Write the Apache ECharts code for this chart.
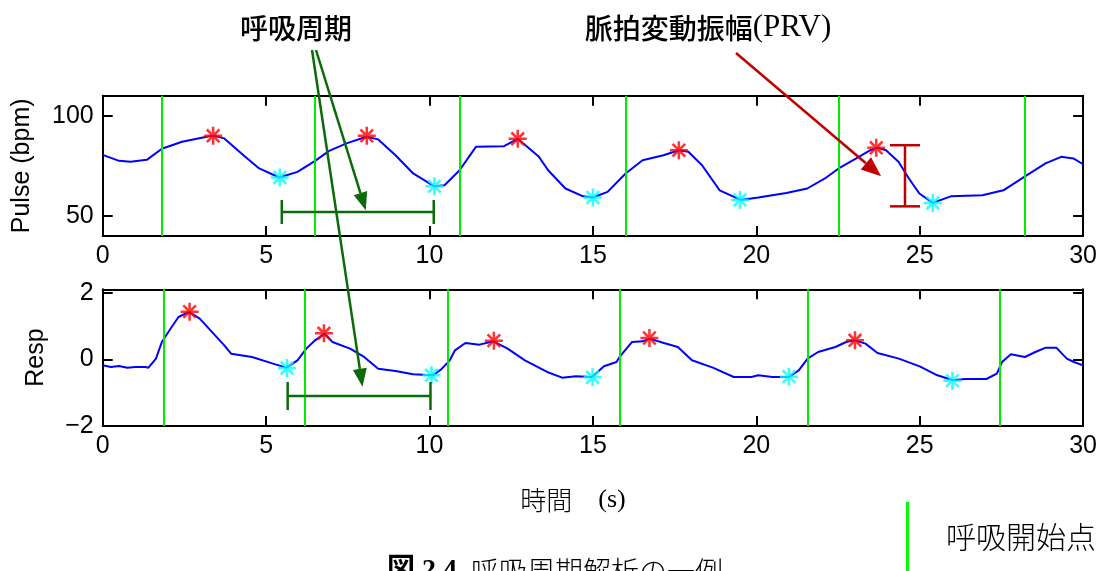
<!DOCTYPE html>
<html><head><meta charset="utf-8">
<script src="https://cdn.jsdelivr.net/npm/echarts@6/dist/echarts.min.js"></script>
<style>html,body{margin:0;padding:0;background:#fff}#c{width:1100px;height:571px}</style>
</head><body><div id="c"></div>
<script>
// ---- data ----
const pulseT = [0,0.5,0.85,1.35,1.81,2.43,3.18,3.4,3.72,4.36,4.79,5.4,5.96,6.5,6.93,7.46,8.07,8.43,8.96,9.5,10.15,10.46,10.92,11.42,12.28,12.7,13.35,13.63,14.16,14.7,15.0,15.45,16.0,16.52,17.16,17.63,17.92,18.34,18.88,19.52,20.06,20.92,21.56,22.1,22.52,23.06,23.49,23.7,23.97,24.35,24.67,24.99,25.4,25.95,26.92,27.56,28.2,28.85,29.33,29.7,30];
const pulseV = [80.5,77.5,77,78,83.5,87,89.5,90,88.7,79.5,73.7,69.2,72,77.5,82.5,86.2,89.5,88.2,80.3,71.2,64.8,65.3,72.8,84.5,84.8,88.5,79.5,72.8,63.7,59.8,59.2,62,71.2,77.8,80.3,82.8,82,75.3,62.8,58,59.2,61.5,63.7,68.7,73.7,78.7,82.8,84,82.8,77,68.7,61.2,56.5,59.8,60.3,62.8,69.5,76.2,79.5,78.7,75.8];
const pulsePeakT = [3.38,8.08,12.7,17.63,23.67];
const pulsePeakV = [90,90,88.5,82.8,84];
const pulseTroughT = [5.42,10.15,15.0,19.5,25.4];
const pulseTroughV = [69.2,64.8,59.2,58,56.5];
const pulseOnsets = [1.81,6.5,10.92,16.0,22.52,28.2];

const respT = [0,0.25,0.5,0.75,1.0,1.3,1.4,1.63,1.81,2.11,2.32,2.64,2.97,3.39,3.72,3.93,4.57,5.21,5.62,5.96,6.23,6.5,6.79,7.03,7.57,8.0,8.43,8.96,9.5,10.09,10.35,10.62,10.78,11.1,11.53,11.96,12.39,12.92,13.6,14.06,14.48,14.97,15.34,15.72,15.83,16.2,16.52,16.74,17.17,17.6,18.03,18.67,19.31,19.85,20.06,20.49,21.0,21.3,21.57,21.89,22.42,22.75,23.01,23.34,23.71,24.36,25.0,25.54,26.02,26.39,27.04,27.36,27.52,27.79,28.22,28.54,28.86,29.18,29.5,29.72,30];
const respV = [-0.18,-0.23,-0.2,-0.25,-0.23,-0.23,-0.25,0.02,0.52,0.97,1.27,1.42,1.22,0.77,0.42,0.17,0.07,-0.13,-0.25,-0.03,0.32,0.57,0.77,0.52,0.32,0.07,-0.28,-0.35,-0.45,-0.48,-0.31,-0.03,0.27,0.49,0.44,0.54,0.32,-0.03,-0.38,-0.55,-0.51,-0.53,-0.21,-0.08,0.09,0.52,0.54,0.62,0.49,0.37,-0.03,-0.25,-0.53,-0.53,-0.48,-0.53,-0.53,-0.33,0.02,0.22,0.37,0.52,0.57,0.47,0.19,0.02,-0.21,-0.48,-0.63,-0.59,-0.59,-0.43,-0.08,0.15,0.07,0.22,0.35,0.35,0.02,-0.08,-0.18];
const respPeakT = [2.66,6.77,11.97,16.73,23.02];
const respPeakV = [1.43,0.78,0.56,0.64,0.57];
const respTroughT = [5.64,10.06,14.99,21.0,26.0];
const respTroughV = [-0.26,-0.48,-0.54,-0.52,-0.64];
const respOnsets = [1.87,6.17,10.57,15.83,21.56,27.45];

const xTicks = [0,5,10,15,20,25,30];
const pulseTicks = [50,100];
const respTicks = [-2,0,2];

// annotation anchors (data units)
const cycleTopSpan = [5.48, 10.13], cycleTopLevel = 52;
const cycleBotSpan = [5.66, 10.03], cycleBotLevel = -1.1;
const cycleTopTip = [8.05, 52.8], cycleBotTip = [7.95, -0.82];
const prvBarT = 24.55, prvBarRange = [85.3, 54.8];
const prvTip = [23.82, 69.8];

// ---- chart ----
const zip = (a, b) => a.map((v, i) => [v, b[i]]);
const STAR = 'path://M0,8.6L20,8.6L20,11.4L0,11.4ZM8.6,0L11.4,0L11.4,20L8.6,20ZM2,4L4,2L18,16L16,18ZM16,2L18,4L4,18L2,16Z';
const NUMFONT = '"Liberation Sans",Arial,sans-serif';
const chart = echarts.init(document.getElementById('c'), null, {renderer: 'canvas'});

const axLine = {show: true, onZero: false, lineStyle: {color: '#000', width: 2}};
function xAx(grid, pos, labels) {
  return {type: 'value', gridIndex: grid, position: pos, min: 0, max: 30, interval: 5,
    axisLine: axLine, splitLine: {show: false},
    axisTick: {show: true, inside: true, length: 10, lineStyle: {color: '#000', width: 2}},
    axisLabel: {show: labels, margin: 8, color: '#000', fontSize: 25, fontFamily: NUMFONT}};
}
function yAx(grid, pos, min, max, ticks, labels, name, gap) {
  return {type: 'value', gridIndex: grid, position: pos, min: min, max: max,
    axisLine: axLine, splitLine: {show: false},
    axisTick: {show: true, inside: true, length: 10, customValues: ticks, lineStyle: {color: '#000', width: 2}},
    axisLabel: {show: labels, margin: 9, color: '#000', fontSize: 25, fontFamily: NUMFONT, customValues: ticks,
      formatter: v => (v < 0 ? '\u2212' + Math.abs(v) : String(v))},
    name: name || '', nameLocation: 'middle', nameGap: gap || 0,
    nameTextStyle: {color: '#000', fontSize: 25, fontFamily: '"Liberation Sans",Arial,sans-serif'}};
}
const onsetStyle = {symbol: ['none', 'none'], silent: true, label: {show: false},
  lineStyle: {color: '#00ee00', width: 2, type: 'solid'}, emphasis: {disabled: true}};

const option = {
  animation: false,
  backgroundColor: '#fff',
  grid: [
    {left: 102.7, right: 13.3, top: 95.7, height: 140.3},
    {left: 102.7, right: 13.3, top: 289.3, height: 136.7}
  ],
  xAxis: [xAx(0, 'bottom', true), xAx(0, 'top', false), xAx(1, 'bottom', true), xAx(1, 'top', false)],
  yAxis: [
    yAx(0, 'left', 40, 110, pulseTicks, true, 'Pulse (bpm)', 68),
    yAx(0, 'right', 40, 110, pulseTicks, false),
    yAx(1, 'left', -2, 2.1, respTicks, true, 'Resp', 54),
    yAx(1, 'right', -2, 2.1, respTicks, false)
  ],
  series: [
    {type: 'line', xAxisIndex: 0, yAxisIndex: 0, data: zip(pulseT, pulseV), showSymbol: false,
      lineStyle: {color: '#0000ff', width: 2}, z: 3,
      markLine: Object.assign({data: pulseOnsets.map(t => ({xAxis: t}))}, onsetStyle)},
    {type: 'scatter', xAxisIndex: 0, yAxisIndex: 0, data: zip(pulsePeakT, pulsePeakV), symbol: STAR, symbolSize: 18,
      itemStyle: {color: '#ff0000'}, z: 4},
    {type: 'scatter', xAxisIndex: 0, yAxisIndex: 0, data: zip(pulseTroughT, pulseTroughV), symbol: STAR, symbolSize: 18,
      itemStyle: {color: '#00ffff'}, z: 4},
    {type: 'line', xAxisIndex: 2, yAxisIndex: 2, data: zip(respT, respV), showSymbol: false,
      lineStyle: {color: '#0000ff', width: 2}, z: 3,
      markLine: Object.assign({data: respOnsets.map(t => ({xAxis: t}))}, onsetStyle)},
    {type: 'scatter', xAxisIndex: 2, yAxisIndex: 2, data: zip(respPeakT, respPeakV), symbol: STAR, symbolSize: 18,
      itemStyle: {color: '#ff0000'}, z: 4},
    {type: 'scatter', xAxisIndex: 2, yAxisIndex: 2, data: zip(respTroughT, respTroughV), symbol: STAR, symbolSize: 18,
      itemStyle: {color: '#00ffff'}, z: 4}
  ]
};
chart.setOption(option);

// ---- annotations ----
const G = '#0b6b0b', R = '#c00000';
const p0 = d => chart.convertToPixel({gridIndex: 0}, d);
const p1 = d => chart.convertToPixel({gridIndex: 1}, d);
function arrow(a, b, color, len, hw, w) {
  const dx = b[0] - a[0], dy = b[1] - a[1], L = Math.hypot(dx, dy), ux = dx / L, uy = dy / L;
  const bx = b[0] - ux * len, by = b[1] - uy * len, px = -uy, py = ux;
  return [
    {type: 'line', shape: {x1: a[0], y1: a[1], x2: bx, y2: by}, style: {stroke: color, lineWidth: w}, z: 50},
    {type: 'polygon', shape: {points: [[b[0], b[1]], [bx + px * hw, by + py * hw], [bx - px * hw, by - py * hw]]}, style: {fill: color}, z: 50}
  ];
}
function hBracket(l, r, color, cap, w) {
  return [
    {type: 'line', shape: {x1: l[0], y1: l[1], x2: r[0], y2: r[1]}, style: {stroke: color, lineWidth: w}, z: 50},
    {type: 'line', shape: {x1: l[0], y1: l[1] - cap, x2: l[0], y2: l[1] + cap}, style: {stroke: color, lineWidth: w}, z: 50},
    {type: 'line', shape: {x1: r[0], y1: r[1] - cap, x2: r[0], y2: r[1] + cap}, style: {stroke: color, lineWidth: w}, z: 50}
  ];
}
function vBar(top, bot, color, cap, w) {
  return [
    {type: 'line', shape: {x1: top[0], y1: top[1], x2: bot[0], y2: bot[1]}, style: {stroke: color, lineWidth: w}, z: 50},
    {type: 'line', shape: {x1: top[0] - cap, y1: top[1], x2: top[0] + cap, y2: top[1]}, style: {stroke: color, lineWidth: w}, z: 50},
    {type: 'line', shape: {x1: bot[0] - cap, y1: bot[1], x2: bot[0] + cap, y2: bot[1]}, style: {stroke: color, lineWidth: w}, z: 50}
  ];
}
const JP = '"Noto Sans CJK JP",sans-serif';
const SERIF = '"Liberation Serif","DejaVu Serif",serif';
const els = [].concat(
  hBracket(p0([cycleTopSpan[0], cycleTopLevel]), p0([cycleTopSpan[1], cycleTopLevel]), G, 12, 2.5),
  hBracket(p1([cycleBotSpan[0], cycleBotLevel]), p1([cycleBotSpan[1], cycleBotLevel]), G, 14, 2.5),
  arrow([316, 50], p0(cycleTopTip), G, 18, 7, 2.5),
  arrow([312, 50], p1(cycleBotTip), G, 18, 7, 2.5),
  vBar(p0([prvBarT, prvBarRange[0]]), p0([prvBarT, prvBarRange[1]]), R, 15, 2.5),
  arrow([736, 53], p0(prvTip), R, 20, 8, 2.5),
  [
    {type: 'text', x: 296, y: 28, z: 60, style: {text: '呼吸周期', fill: '#000', align: 'center', verticalAlign: 'middle',
      fontSize: 28, fontWeight: 500, fontFamily: JP}},
    {type: 'text', x: 708, y: 28, z: 60, style: {text: '{a|脈拍変動振幅}{b|(PRV)}', align: 'center', verticalAlign: 'middle',
      rich: {a: {fontSize: 28, fontWeight: 500, fontFamily: JP, fill: '#000'},
             b: {fontSize: 31, fontFamily: SERIF, fill: '#000'}}}},
    {type: 'text', x: 573, y: 500, z: 60, style: {text: '{a|時間}{b|\u3000(s)}', align: 'center', verticalAlign: 'middle',
      rich: {a: {fontSize: 26, fontWeight: 300, fontFamily: JP, fill: '#000'},
             b: {fontSize: 26, fontFamily: SERIF, fill: '#000'}}}},
    {type: 'text', x: 555, y: 557, z: 60, style: {text: '{a|図 2.4\u2002}{b|呼吸周期解析の一例}', align: 'center', verticalAlign: 'top',
      rich: {a: {fontSize: 28, fontWeight: 'bold', fontFamily: SERIF + ',' + JP, fill: '#000'},
             b: {fontSize: 28, fontWeight: 300, fontFamily: JP, fill: '#000'}}}},
    {type: 'line', shape: {x1: 907.5, y1: 502, x2: 907.5, y2: 572}, style: {stroke: '#00ff00', lineWidth: 3}, z: 60},
    {type: 'text', x: 1021, y: 537, z: 60, style: {text: '呼吸開始点', fill: '#000', align: 'center', verticalAlign: 'middle',
      fontSize: 30, fontWeight: 300, fontFamily: JP}}
  ]
);
chart.setOption({graphic: {elements: els}});
</script>
</body></html>
